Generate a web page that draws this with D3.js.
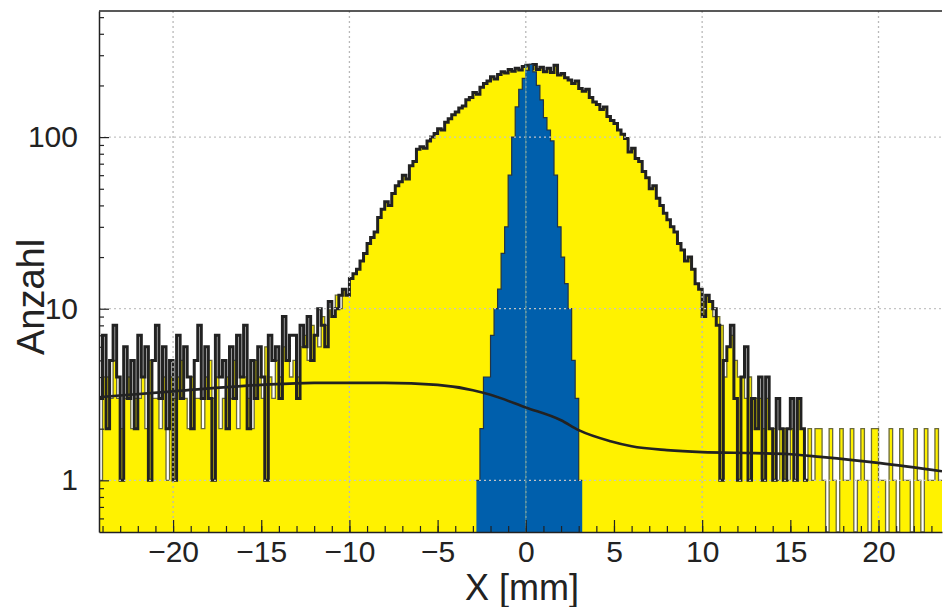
<!DOCTYPE html>
<html>
<head>
<meta charset="utf-8">
<script src="https://cdn.jsdelivr.net/npm/d3@7"></script>
<style>
  html, body { margin: 0; padding: 0; background: #fff; }
  #chart { width: 943px; height: 607px; }
  text { font-family: "Liberation Sans", Arial, sans-serif; fill: #222; }
</style>
</head>
<body>
<div id="chart"></div>
<script>
// histogram definition (mm)
const xLow = -24.2;
const xHigh = 23.6;
const binWidth = 0.2;

// yellow filled histogram, one count per 0.2 mm bin from xLow
const yellowCounts = [
  1,4,4,3,5,3,2,3,4,2, 3,3,4,2,5,3,3,2,4,1, 4,3,4,5,3,2,4,3,3,2,
  4,5,3,4,2,3,4,3,5,2, 4,4,3,2,5,4,3,6,4,3, 5,4,6,5,4,
  5,4,6,7,5,8,7,6,9,8,10,9,12,10,13,12,
  15,16,17,19,21,24,26,28,34,38, 42,40,47,52,55,60,57,68,72,85,
  88,86,95,100,105,112,110,122,128,135, 140,148,152,165,170,182,178,195,205,212,
  225,218,232,240,236,248,242,252,246,258,
  262,250,265,248,255,240,252,238,262,230, 235,222,215,205,212,192,185,190,170,160,
  155,145,150,132,125,120,110,104,98,82, 86,75,72,63,58,50,52,44,40,36,
  33,30,28,24,22,19,20,17,14,13,
  11,12,11,9,9,8,4,6,7,5, 4,4,3,4,3,3,3,2,3,2, 2,1,2,2,1,2,1,3,2,1,
  2,1,2,2,1,0,2,1,0,2, 1,1,2,0,1,2,1,0,2,2, 1,1,0,2,1,0,2,1,1,0, 2,1,0,2,1,1,2,1
];

// black line histogram: tails differ from yellow, centre coincides, empty past 16 mm
const blackLeft = [
  3,7,2,5,8,4,1,6,3,5, 2,7,4,6,1,5,8,3,6,2, 5,1,7,3,6,4,2,5,8,3,
  6,3,1,7,4,5,2,6,3,7, 4,8,2,5,3,6,4,1,7,5, 6,3,9,5,7,
  7,3,8,6,9,5,7,10,8,6,11,9,10,12,13,12
];
const blackRight = [
  9,12,11,10,8,1,5,6,8,3, 1,4,6,1,3,2,4,1,4,2, 1,3,2,1,2,3,1,3,2,1,
  null,null,null,null,null,null,null,null,null,null,
  null,null,null,null,null,null,null,null,null,null,
  null,null,null,null,null,null,null,null,null,null,
  null,null,null,null,null,null,null,null
];
const blackCounts = [...blackLeft, ...yellowCounts.slice(71, 171), ...blackRight];

// blue narrow histogram, bins from blueLow
const blueLow = -2.8;
const blueCounts = [
  1,2,4,4,7,10,13,21,30,60,
  100,150,190,220,245,265,240,200,165,130,
  110,95,60,30,20,14,10,5,3,1
];

// smooth background fit
const fitX = [-24.2, -20, -15, -12, -8, -5, -3, -2, 0, 2, 3, 4.8, 6, 8, 10, 13, 15, 16.7, 20.1, 23.6];
const fitY = [3.05, 3.3, 3.6, 3.7, 3.7, 3.6, 3.35, 3.15, 2.66, 2.24, 1.96, 1.69, 1.58, 1.5, 1.46, 1.44, 1.42, 1.37, 1.26, 1.13];

const xMajorTicks = [-20, -15, -10, -5, 0, 5, 10, 15, 20];
const xGrid = [-20, -10, 0, 10, 20];
const yMajorTicks = [1, 10, 100];
const yMinorTicks = [0.6, 0.7, 0.8, 0.9, 2, 3, 4, 5, 6, 7, 8, 9, 20, 30, 40, 50, 60, 70, 80, 90, 200, 300, 400, 500];
const yMin = 0.5;
const yMax = 543;

function drawHist(divId) {
  const W = 943, H = 607;
  const plot = { left: 99, right: 942, top: 11, bottom: 532 };

  const svg = d3.select(`#${divId}`)
    .append("svg")
    .attr("width", W)
    .attr("height", H);

  const x = d3.scaleLinear().domain([xLow, xHigh]).range([plot.left, plot.right]);
  const y = d3.scaleLog().domain([yMin, yMax]).range([plot.bottom, plot.top]);

  svg.append("clipPath").attr("id", "clip")
    .append("rect")
    .attr("x", plot.left).attr("y", plot.top)
    .attr("width", plot.right - plot.left).attr("height", plot.bottom - plot.top);

  const g = svg.append("g").attr("clip-path", "url(#clip)");

  const stepPoints = (counts, x0) => {
    const pts = [];
    counts.forEach((v, i) => {
      const a = x0 + i * binWidth;
      pts.push([a, v], [a + binWidth, v]);
    });
    return pts;
  };
  const yv = (v) => y(Math.max(v, yMin));

  const area = d3.area()
    .x((d) => x(d[0]))
    .y0(plot.bottom)
    .y1((d) => yv(d[1]));
  const line = d3.line()
    .defined((d) => d[1] !== null)
    .x((d) => x(d[0]))
    .y((d) => yv(d[1]));

  const yellowPts = stepPoints(yellowCounts, xLow);
  const blackPts = stepPoints(blackCounts, xLow);
  const bluePts = stepPoints(blueCounts, blueLow);

  // yellow fill + thin outline
  g.append("path").attr("d", area(yellowPts)).attr("fill", "#fff200");
  g.append("path").attr("d", line(yellowPts))
    .attr("fill", "none").attr("stroke", "#6b6a3a").attr("stroke-width", 1.3);

  // black histogram line
  g.append("path").attr("d", line(blackPts))
    .attr("fill", "none").attr("stroke", "#222").attr("stroke-width", 3);

  // blue
  g.append("path").attr("d", area(bluePts)).attr("fill", "#005fac");
  g.append("path").attr("d", line(bluePts))
    .attr("fill", "none").attr("stroke", "#233444").attr("stroke-width", 1.2);

  // grid
  g.selectAll(".gx").data(xGrid).enter().append("line")
    .attr("x1", (d) => x(d)).attr("x2", (d) => x(d))
    .attr("y1", plot.top).attr("y2", plot.bottom)
    .attr("stroke", "#b9b9b9").attr("stroke-width", 1.3)
    .attr("stroke-dasharray", "2,3");
  g.selectAll(".gy").data(yMajorTicks).enter().append("line")
    .attr("x1", plot.left).attr("x2", plot.right)
    .attr("y1", (d) => y(d)).attr("y2", (d) => y(d))
    .attr("stroke", "#c4c4c4").attr("stroke-width", 1.3)
    .attr("stroke-dasharray", "2,3");
  // thin line at zero that shows through the blue
  g.append("line")
    .attr("x1", x(0)).attr("x2", x(0))
    .attr("y1", yv(blueCounts[15])).attr("y2", plot.bottom)
    .attr("stroke", "#4f8f9a").attr("stroke-width", 1);

  // fit curve
  const fitLine = d3.line()
    .x((d) => x(d[0]))
    .y((d) => y(d[1]))
    .curve(d3.curveMonotoneX);
  g.append("path").attr("d", fitLine(fitX.map((v, i) => [v, fitY[i]])))
    .attr("fill", "none").attr("stroke", "#222").attr("stroke-width", 2.6);

  // axes (ticks point inside)
  const xMinor = d3.range(-24, 24, 1);
  const axX = svg.append("g").attr("transform", `translate(0,${plot.bottom})`);
  axX.call(d3.axisBottom(x).tickValues(xMinor).tickSizeInner(-6).tickSizeOuter(0).tickFormat(""));
  const axXMaj = svg.append("g").attr("transform", `translate(0,${plot.bottom})`);
  axXMaj.call(d3.axisBottom(x).tickValues(xMajorTicks).tickSizeInner(-12).tickSizeOuter(0).tickPadding(15));
  axXMaj.select(".domain").remove();
  axXMaj.selectAll("text").style("font-size", "30px").attr("dy", "0.5em").attr("fill", "#222");

  const axY = svg.append("g").attr("transform", `translate(${plot.left},0)`);
  axY.call(d3.axisLeft(y).tickValues(yMinorTicks).tickSizeInner(-5).tickSizeOuter(0).tickFormat(""));
  const axYMaj = svg.append("g").attr("transform", `translate(${plot.left},0)`);
  axYMaj.call(d3.axisLeft(y).tickValues(yMajorTicks).tickSizeInner(-10).tickSizeOuter(0)
    .tickPadding(21).tickFormat(d3.format("d")));
  axYMaj.select(".domain").remove();
  axYMaj.selectAll("text").style("font-size", "30px").attr("fill", "#222");

  svg.selectAll(".tick line").attr("stroke", "#222").attr("stroke-width", 1.2);
  svg.selectAll(".domain").attr("stroke", "#222").attr("stroke-width", 1.5);

  // top frame line
  svg.append("line")
    .attr("x1", plot.left).attr("x2", plot.right)
    .attr("y1", plot.top).attr("y2", plot.top)
    .attr("stroke", "#222").attr("stroke-width", 1.5);

  // titles
  svg.append("text")
    .attr("text-anchor", "middle")
    .attr("x", 522).attr("y", 600)
    .style("font-size", "36px")
    .text("X [mm]");

  svg.append("text")
    .attr("text-anchor", "middle")
    .attr("transform", "rotate(-90)")
    .attr("x", -297).attr("y", 44)
    .style("font-size", "38px")
    .text("Anzahl");
}

drawHist("chart");
</script>
</body>
</html>
